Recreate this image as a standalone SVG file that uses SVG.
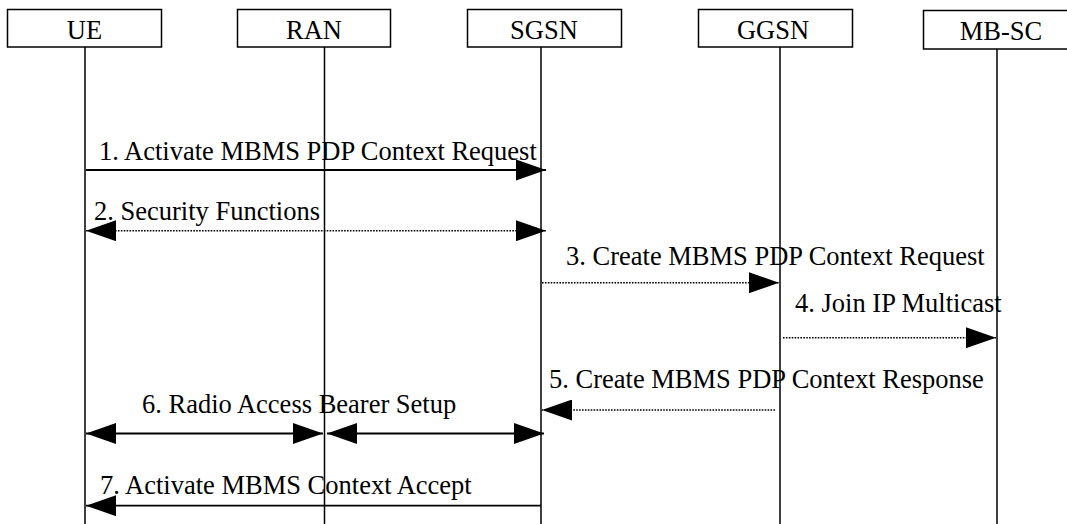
<svg xmlns="http://www.w3.org/2000/svg" width="1067" height="524" viewBox="0 0 1067 524" font-family="'Liberation Serif', Tinos, 'Times New Roman', 'Nimbus Roman', 'DejaVu Serif', serif">
<style>
  text { font-family: 'Liberation Serif', Tinos, 'Times New Roman', 'Nimbus Roman', 'DejaVu Serif', serif; font-size: 26.5px; fill: #000; }
  .box { fill: #fff; stroke: #000; stroke-width: 1.5; }
  .life { stroke: #000; stroke-width: 1.5; }
  .solid { stroke: #000; stroke-width: 1.8; fill: none; }
  .dot { stroke: #000; stroke-width: 1.4; stroke-dasharray: 1.6 1.3; fill: none; }
  .lbl { text-anchor: middle; }
</style>
<defs>
  <marker id="ah" markerUnits="userSpaceOnUse" markerWidth="30" markerHeight="21" viewBox="0 0 30 21" refX="30" refY="10.5" orient="auto-start-reverse">
    <path d="M0,0 L30,10.5 L0,21 Z" fill="#000"/>
  </marker>
</defs>
<g id="node-UE">
  <rect class="box" x="7.5" y="9.5" width="154" height="37.5"/>
  <text class="lbl" x="84.5" y="39">UE</text>
  <line class="life" x1="85" y1="47" x2="85" y2="524"/>
</g>
<g id="node-RAN">
  <rect class="box" x="237.5" y="9.5" width="153" height="37.5"/>
  <text class="lbl" x="314" y="39">RAN</text>
  <line class="life" x1="324.5" y1="47" x2="324.5" y2="524"/>
</g>
<g id="node-SGSN">
  <rect class="box" x="467.5" y="9.5" width="154" height="37.5"/>
  <text class="lbl" x="544" y="39">SGSN</text>
  <line class="life" x1="541" y1="47" x2="541" y2="524"/>
</g>
<g id="node-GGSN">
  <rect class="box" x="698.5" y="9.5" width="154" height="37.5"/>
  <text class="lbl" x="773" y="39">GGSN</text>
  <line class="life" x1="780" y1="47" x2="780" y2="524"/>
</g>
<g id="node-MBSC">
  <rect class="box" x="923.5" y="10.5" width="154" height="38.5"/>
  <text class="lbl" x="1001" y="40">MB-SC</text>
  <line class="life" x1="997" y1="49" x2="997" y2="524"/>
</g>
<g id="connectors">
  <line class="solid" x1="86" y1="170" x2="546" y2="170" marker-end="url(#ah)"/>
  <text x="99" y="160">1. Activate MBMS PDP Context Request</text>

  <line class="dot" x1="86" y1="230.7" x2="546" y2="230.7" marker-start="url(#ah)" marker-end="url(#ah)"/>
  <text x="94" y="220">2. Security Functions</text>

  <line class="dot" x1="542" y1="282.7" x2="779" y2="282.7" marker-end="url(#ah)"/>
  <text x="566" y="265">3. Create MBMS PDP Context Request</text>

  <line class="dot" x1="783" y1="337.7" x2="996" y2="337.7" marker-end="url(#ah)"/>
  <text x="795" y="311.7">4. Join IP Multicast</text>

  <line class="dot" x1="775" y1="410" x2="542" y2="410" marker-end="url(#ah)"/>
  <text x="549" y="388">5. Create MBMS PDP Context Response</text>

  <line class="solid" x1="86" y1="433.5" x2="323" y2="433.5" marker-start="url(#ah)" marker-end="url(#ah)"/>
  <line class="solid" x1="327" y1="433.5" x2="544" y2="433.5" marker-start="url(#ah)" marker-end="url(#ah)"/>
  <text x="142" y="413">6. Radio Access Bearer Setup</text>

  <line class="solid" x1="541" y1="505.7" x2="86" y2="505.7" marker-end="url(#ah)"/>
  <text x="100" y="494">7. Activate MBMS Context Accept</text>
</g>
</svg>
